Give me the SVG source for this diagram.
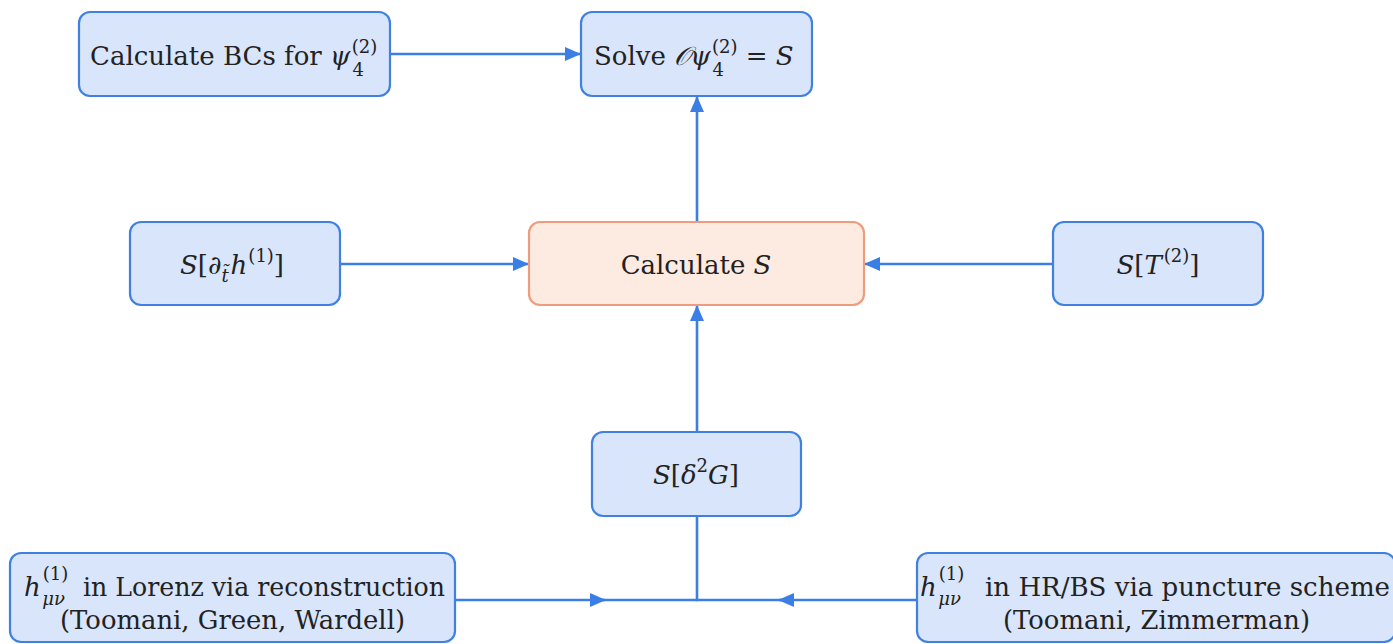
<svg xmlns="http://www.w3.org/2000/svg" width="1393" height="644" viewBox="0 0 1393 644">
<defs>
<style>
.blue{fill:#d8e5fb;stroke:#3f80e2;stroke-width:2.2}
.orange{fill:#fdeae0;stroke:#ee9c7e;stroke-width:2.2}
.t{font-family:'DejaVu Serif',serif;font-size:26px;fill:#222}
.i{font-style:italic}
.s{font-size:18px}
.c{fill:none;stroke:#3b7fe6;stroke-width:2.6}
</style>
<marker id="ah" markerWidth="16" markerHeight="14" refX="15" refY="7" orient="auto" markerUnits="userSpaceOnUse">
<path d="M0,0 L16,7 L0,14 Z" fill="#3b7fe6"/>
</marker>
</defs>
<rect width="1393" height="644" fill="#ffffff"/>
<g id="connectors">
<path class="c" d="M390,54 H580" marker-end="url(#ah)"/>
<path class="c" d="M697,222 V97" marker-end="url(#ah)"/>
<path class="c" d="M340,264 H528" marker-end="url(#ah)"/>
<path class="c" d="M1053,264 H865" marker-end="url(#ah)"/>
<path class="c" d="M697,432 V306" marker-end="url(#ah)"/>
<path class="c" d="M455,600 H605" marker-end="url(#ah)"/>
<path class="c" d="M600,600 H697"/>
<path class="c" d="M917,600 H779" marker-end="url(#ah)"/>
<path class="c" d="M785,600 H697 V516"/>
</g>
<g id="bcs">
<rect class="blue" x="79" y="12" width="311" height="84" rx="11"/>
<text class="t" x="90" y="65">Calculate BCs for <tspan class="i">ψ</tspan><tspan class="s" dx="2" dy="11">4</tspan><tspan class="s" dx="-12" dy="-23">(2)</tspan></text>
</g>
<g id="solve">
<rect class="blue" x="581" y="12" width="231" height="84" rx="11"/>
<text class="t" x="594" y="65">Solve <tspan class="i">𝒪ψ</tspan><tspan class="s" dx="2" dy="11">4</tspan><tspan class="s" dx="-12" dy="-23">(2)</tspan><tspan dy="12"> = </tspan><tspan class="i">S</tspan></text>
</g>
<g id="sdt">
<rect class="blue" x="130" y="222" width="210" height="83" rx="11"/>
<text class="t" x="232" y="274" text-anchor="middle"><tspan class="i">S</tspan>[∂<tspan class="s i" dy="8">t̃</tspan><tspan class="i" dx="2" dy="-8">h</tspan><tspan class="s" dx="1" dy="-12">(1)</tspan><tspan dy="12">]</tspan></text>
</g>
<g id="calcS">
<rect class="orange" x="529" y="222" width="335" height="83" rx="11"/>
<text class="t" x="696" y="274" text-anchor="middle">Calculate <tspan class="i">S</tspan></text>
</g>
<g id="sT">
<rect class="blue" x="1053" y="222" width="210" height="83" rx="11"/>
<text class="t" x="1158" y="274" text-anchor="middle"><tspan class="i">S</tspan>[<tspan class="i">T</tspan><tspan class="s" dx="2" dy="-12">(2)</tspan><tspan dy="12">]</tspan></text>
</g>
<g id="sG">
<rect class="blue" x="592" y="432" width="209" height="84" rx="11"/>
<text class="t" x="696" y="484" text-anchor="middle"><tspan class="i">S</tspan>[<tspan class="i">δ</tspan><tspan class="s" dy="-12">2</tspan><tspan class="i" dy="12">G</tspan>]</text>
</g>
<g id="lorenz">
<rect class="blue" x="10" y="553" width="445" height="89" rx="11"/>
<text class="t" x="24" y="596"><tspan class="i">h</tspan><tspan class="s" dx="2" dy="-16">(1)</tspan><tspan class="s i" dx="-26" dy="25">μν</tspan></text>
<text class="t" x="83" y="596" textLength="362" lengthAdjust="spacingAndGlyphs">in Lorenz via reconstruction</text>
<text class="t" x="60" y="629" textLength="345" lengthAdjust="spacingAndGlyphs">(Toomani, Green, Wardell)</text>
</g>
<g id="hrbs">
<rect class="blue" x="917" y="553" width="478" height="89" rx="11"/>
<text class="t" x="920" y="596"><tspan class="i">h</tspan><tspan class="s" dx="2" dy="-16">(1)</tspan><tspan class="s i" dx="-26" dy="25">μν</tspan></text>
<text class="t" x="985" y="596" textLength="405" lengthAdjust="spacingAndGlyphs">in HR/BS via puncture scheme</text>
<text class="t" x="1003" y="629" textLength="307" lengthAdjust="spacingAndGlyphs">(Toomani, Zimmerman)</text>
</g>
</svg>
